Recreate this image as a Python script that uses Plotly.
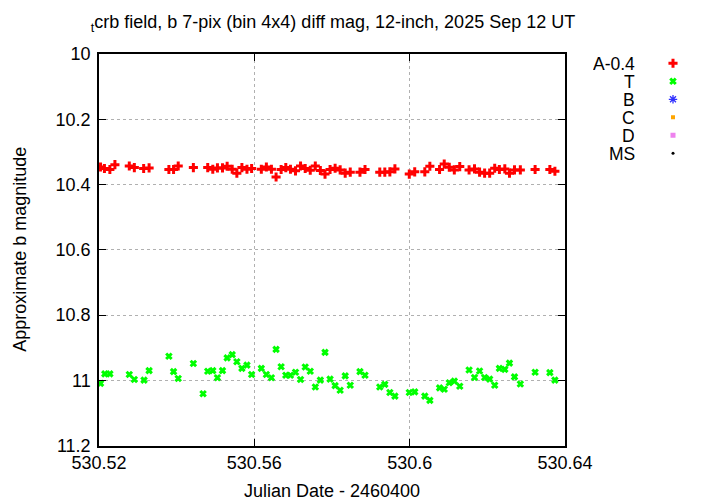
import plotly.graph_objects as go

# Julian Date - 2460400, comparison star A (shifted by -0.4) and target T
jd_a = [
    530.5204, 530.5214, 530.5228, 530.5241, 530.5278, 530.5291, 530.5315, 530.5329,
    530.5380, 530.5392, 530.5404, 530.5443, 530.5480, 530.5493, 530.5505, 530.5518,
    530.5530, 530.5543, 530.5555, 530.5568, 530.5581, 530.5593, 530.5618, 530.5631,
    530.5644, 530.5656, 530.5669, 530.5681, 530.5693, 530.5706, 530.5719, 530.5731,
    530.5744, 530.5757, 530.5770, 530.5782, 530.5795, 530.5808, 530.5821, 530.5834,
    530.5847, 530.5872, 530.5885, 530.5923, 530.5936, 530.5949, 530.5962, 530.5999,
    530.6013, 530.6039, 530.6052, 530.6077, 530.6089, 530.6102, 530.6115, 530.6129,
    530.6153, 530.6167, 530.6180, 530.6193, 530.6206, 530.6219, 530.6231, 530.6245,
    530.6257, 530.6270, 530.6285, 530.6323, 530.6361, 530.6374,
]
mag_a = [
    10.346, 10.351, 10.354, 10.339, 10.343, 10.348, 10.351, 10.349,
    10.354, 10.354, 10.343, 10.348, 10.348, 10.353, 10.349, 10.349,
    10.344, 10.353, 10.365, 10.348, 10.353, 10.351, 10.353, 10.346,
    10.353, 10.377, 10.354, 10.348, 10.353, 10.358, 10.343, 10.351,
    10.356, 10.343, 10.357, 10.368, 10.354, 10.350, 10.355, 10.365,
    10.362, 10.362, 10.354, 10.362, 10.362, 10.361, 10.352, 10.368,
    10.361, 10.361, 10.344, 10.354, 10.337, 10.347, 10.355, 10.345,
    10.355, 10.352, 10.362, 10.365, 10.365, 10.350, 10.354, 10.352,
    10.365, 10.355, 10.355, 10.354, 10.354, 10.359,
]

jd_t = [
    530.5204, 530.5215, 530.5228, 530.5278, 530.5291, 530.5316, 530.5329, 530.5380,
    530.5392, 530.5404, 530.5443, 530.5468, 530.5480, 530.5493, 530.5505, 530.5518,
    530.5530, 530.5543, 530.5555, 530.5568, 530.5581, 530.5593, 530.5618, 530.5631,
    530.5644, 530.5656, 530.5669, 530.5681, 530.5693, 530.5706, 530.5719, 530.5731,
    530.5744, 530.5757, 530.5770, 530.5782, 530.5795, 530.5808, 530.5821, 530.5834,
    530.5847, 530.5872, 530.5885, 530.5923, 530.5936, 530.5949, 530.5962, 530.5999,
    530.6013, 530.6039, 530.6052, 530.6077, 530.6089, 530.6102, 530.6115, 530.6129,
    530.6153, 530.6167, 530.6180, 530.6193, 530.6206, 530.6219, 530.6231, 530.6245,
    530.6257, 530.6270, 530.6285, 530.6323, 530.6361, 530.6374,
]
mag_t = [
    11.009, 10.980, 10.980, 10.982, 10.997, 10.999, 10.970, 10.926,
    10.973, 10.994, 10.948, 11.041, 10.972, 10.970, 10.992, 10.970,
    10.931, 10.921, 10.943, 10.963, 10.953, 10.982, 10.963, 10.982,
    10.992, 10.905, 10.958, 10.984, 10.984, 10.975, 10.997, 10.959,
    10.972, 11.020, 10.999, 10.914, 10.996, 11.016, 11.030, 10.986,
    11.015, 10.973, 10.984, 11.020, 11.012, 11.037, 11.048, 11.037,
    11.035, 11.048, 11.061, 11.023, 11.027, 11.007, 11.002, 11.018,
    10.968, 10.991, 10.971, 10.991, 10.996, 11.015, 10.963, 10.966,
    10.947, 10.989, 11.011, 10.975, 10.976, 10.999,
]

legend_names = ["A-0.4", "T", "B", "C", "D", "MS"]
legend_symbols = ["cross-thin", "x-thin", "asterisk-open", "square", "square", "circle"]
legend_colors = ["#ff0000", "#00ff00", "#3030ff", "#ffa500", "#ee82ee", "#000000"]
legend_sizes = [6.5, 5.5, 7, 4, 5, 3]
legend_widths = [3, 3, 1.3, 0, 0, 0]

x_ticks = [530.52, 530.56, 530.6, 530.64]
x_tick_text = ["530.52", "530.56", "530.6", "530.64"]
y_ticks = [10, 10.2, 10.4, 10.6, 10.8, 11, 11.2]

W, H = 720, 504
FONT = "Liberation Sans"

# page body has an 8px margin, so positions below are page pixels minus 8
left, right, top, bottom = 91, 557, 46, 437.7

fig = go.Figure()

fig.add_trace(go.Scatter(
    x=jd_a, y=mag_a, mode="markers", name="A-0.4",
    marker=dict(symbol="cross-thin", size=6.5, color="#ff0000",
                line=dict(width=3, color="#ff0000")),
))
fig.add_trace(go.Scatter(
    x=jd_t, y=mag_t, mode="markers", name="T",
    marker=dict(symbol="x-thin", size=5.5, color="#00ff00",
                line=dict(width=3, color="#00ff00")),
))

# key drawn gnuplot style: right aligned text, symbol to the right
for i, name in enumerate(legend_names):
    fig.add_trace(go.Scatter(
        x=[0], y=[i], mode="markers", xaxis="x2", yaxis="y2", showlegend=False,
        marker=dict(symbol=legend_symbols[i], size=legend_sizes[i],
                    color=legend_colors[i],
                    line=dict(width=legend_widths[i], color=legend_colors[i])),
    ))
    fig.add_annotation(
        x=0, y=i, xref="x2", yref="y2", text=name, showarrow=False,
        xanchor="right", yanchor="middle", xshift=-36, height=17,
        font=dict(family=FONT, size=17.5, color="black"),
    )

fig.add_annotation(
    x=(left + right) / 2 / W, y=1 - 483 / H, xref="paper", yref="paper",
    text="Julian Date - 2460400", showarrow=False,
    xanchor="center", yanchor="middle",
    font=dict(family=FONT, size=18, color="black"),
)
fig.add_annotation(
    x=12 / W, y=1 - (top + bottom) / 2 / H, xref="paper", yref="paper",
    text="Approximate b magnitude", showarrow=False, textangle=-90,
    xanchor="center", yanchor="middle",
    font=dict(family=FONT, size=18, color="black"),
)

fig.update_layout(
    width=W, height=H,
    margin=dict(l=0, r=0, t=0, b=0),
    paper_bgcolor="white", plot_bgcolor="white",
    showlegend=False,
    font=dict(family=FONT, size=18, color="black"),
    title=dict(
        text="<sub>t</sub>crb field, b 7-pix (bin 4x4) diff mag, 12-inch, 2025 Sep 12 UT",
        x=325 / W, xanchor="center",
        y=1 - 14 / H, yanchor="middle",
        font=dict(family=FONT, size=18, color="black"),
    ),
    xaxis=dict(
        domain=[left / W, right / W], range=[530.52, 530.64],
        tickvals=x_ticks, ticktext=x_tick_text,
        ticks="inside", ticklen=7, tickcolor="black", tickwidth=1,
        showline=True, linecolor="black", linewidth=1.5, mirror="allticks",
        showgrid=True, gridcolor="#b0b0b0", griddash="dot", gridwidth=1,
        zeroline=False, automargin=False,
        tickfont=dict(size=18),
    ),
    yaxis=dict(
        domain=[1 - bottom / H, 1 - top / H], range=[11.2, 10],
        tickvals=y_ticks,
        ticks="inside", ticklen=7, tickcolor="black", tickwidth=1,
        showline=True, linecolor="black", linewidth=1.5, mirror="allticks",
        showgrid=True, gridcolor="#b0b0b0", griddash="dot", gridwidth=1,
        zeroline=False, automargin=False, ticklabelstandoff=3,
        tickfont=dict(size=18),
    ),
    xaxis2=dict(domain=[640 / W, 690 / W], range=[-1, 1], visible=False,
                anchor="y2", fixedrange=True),
    yaxis2=dict(domain=[1 - 154.3 / H, 1 - 46.3 / H], range=[5.5, -0.5], visible=False,
                anchor="x2", fixedrange=True),
)

fig.write_html("out.html")
